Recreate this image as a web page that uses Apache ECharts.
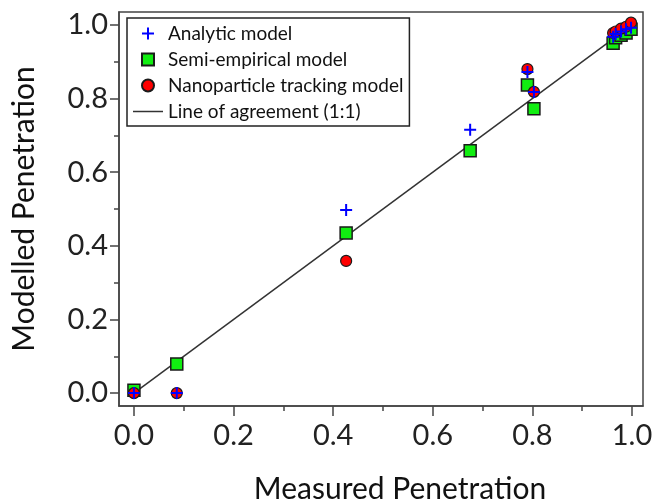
<!DOCTYPE html>
<html>
<head>
<meta charset="utf-8">
<script src="https://cdn.jsdelivr.net/npm/echarts@6/dist/echarts.min.js"></script>
<style>
html,body{margin:0;padding:0;background:#fff;}
#chart{width:655px;height:504px;}
</style>
</head>
<body>
<div id="chart"></div>
<script>
// ---- data ----
var measured   = [0, 0.086, 0.426, 0.675, 0.790, 0.803, 0.962, 0.967, 0.978, 0.988, 0.998];
var analytic   = [0, 0,     0.497, 0.715, 0.872, 0.818, 0.968, 0.975, 0.982, 0.988, 0.992];
var semiEmp    = [0.008, 0.079, 0.435, 0.658, 0.837, 0.772, 0.950, 0.965, 0.972, 0.978, 0.988];
// nanoparticle tracking has no value at measured 0.675
var nanoX      = [0, 0.086, 0.426, 0.790, 0.803, 0.962, 0.967, 0.978, 0.988, 0.998];
var nanoY      = [0, 0,     0.359, 0.880, 0.818, 0.978, 0.982, 0.990, 0.995, 1.006];
var agreement  = [0, 1];
var majorTicks = [0, 0.2, 0.4, 0.6, 0.8, 1.0];
var minorTicks = [0.1, 0.3, 0.5, 0.7, 0.9];
var names = ['Analytic model', 'Semi-empirical model', 'Nanoparticle tracking model', 'Line of agreement (1:1)'];

function pairs(xs, ys){ return xs.map(function(x,i){ return [x, ys[i]]; }); }

var FONT = 'Lato';
var plusPath = 'path://M-1,-6 h2 v5 h5 v2 h-5 v5 h-2 v-5 h-5 v-2 h5 z';
var squarePath = 'path://M0,0 h10 v10 h-10 z';
var linePath = 'path://M0,0 h30 v1.5 h-30 z';

var chart = echarts.init(document.getElementById('chart'), null, {renderer:'canvas'});
var axisCommon = {
  type:'value', splitLine:{show:false},
  axisLine:{show:true, onZero:false, lineStyle:{color:'#444', width:1.5}}
};
chart.setOption({
  backgroundColor:'#fff',
  animation:false,
  textStyle:{fontFamily:FONT},
  grid:{left:119, top:12, right:12, bottom:98, containLabel:false, outerBoundsMode:'none',
    show:true, borderColor:'#444', borderWidth:1.5, backgroundColor:'transparent'},
  legend:{
    data:[
      {name:names[0], icon:plusPath},
      {name:names[1], icon:squarePath},
      {name:names[2], icon:'circle'},
      {name:names[3], icon:linePath}
    ],
    orient:'vertical', left:127, top:18,
    backgroundColor:'#fff', borderColor:'#222', borderWidth:1.5, borderRadius:0,
    padding:[5,6,4,6], itemGap:5, itemWidth:30, itemHeight:12,
    textStyle:{fontFamily:FONT, fontSize:19, color:'#111', lineHeight:21}
  },
  xAxis:[
    Object.assign({}, axisCommon, {
      min:-0.03, max:1.022, position:'bottom',
      name:'Measured Penetration', nameLocation:'middle', nameGap:68,
      nameTextStyle:{fontFamily:FONT, fontSize:30, color:'#111', padding:[0,0,0,38]},
      axisTick:{show:true, customValues:majorTicks, length:10, lineStyle:{color:'#444', width:1.5}},
      axisLabel:{customValues:majorTicks, fontFamily:FONT, fontSize:29, color:'#222', margin:15,
        formatter:function(v){return v.toFixed(1);}}
    }),
    {
      type:'value', min:-0.03, max:1.022, position:'bottom', offset:0,
      splitLine:{show:false}, axisLine:{show:false, onZero:false},
      axisTick:{show:true, customValues:minorTicks, length:5, lineStyle:{color:'#444', width:1.5}},
      axisLabel:{show:false}
    }
  ],
  yAxis:[
    Object.assign({}, axisCommon, {
      min:-0.035, max:1.035, position:'left',
      name:'Modelled Penetration', nameLocation:'middle', nameGap:80,
      nameTextStyle:{fontFamily:FONT, fontSize:30, color:'#111'},
      axisTick:{show:true, customValues:majorTicks, length:9, lineStyle:{color:'#444', width:1.5}},
      axisLabel:{customValues:majorTicks, fontFamily:FONT, fontSize:29, color:'#222', margin:11,
        formatter:function(v){return v.toFixed(1);}}
    }),
    {
      type:'value', min:-0.035, max:1.035, position:'left', offset:0,
      splitLine:{show:false}, axisLine:{show:false, onZero:false},
      axisTick:{show:true, customValues:minorTicks, length:5, lineStyle:{color:'#444', width:1.5}},
      axisLabel:{show:false}
    }
  ],
  series:[
    {
      name:names[3], type:'line', symbol:'none', xAxisIndex:0, yAxisIndex:0,
      data:pairs(agreement, agreement),
      lineStyle:{color:'#333', width:1.5}, itemStyle:{color:'#333'}, z:1
    },
    {
      name:names[1], type:'scatter', xAxisIndex:0, yAxisIndex:0,
      data:pairs(measured, semiEmp), symbol:'rect', symbolSize:12,
      itemStyle:{color:'#11ee11', borderColor:'#1a1a1a', borderWidth:1.5, opacity:1}, z:2
    },
    {
      name:names[2], type:'scatter', xAxisIndex:0, yAxisIndex:0,
      data:pairs(nanoX, nanoY), symbol:'circle', symbolSize:11,
      itemStyle:{color:'#ff0000', borderColor:'#1a1a1a', borderWidth:1.2, opacity:1}, z:3
    },
    {
      name:names[0], type:'scatter', xAxisIndex:0, yAxisIndex:0,
      data:pairs(measured, analytic), symbol:plusPath, symbolSize:12,
      itemStyle:{color:'#0000ff', opacity:1}, z:4
    }
  ]
});
</script>
</body>
</html>
